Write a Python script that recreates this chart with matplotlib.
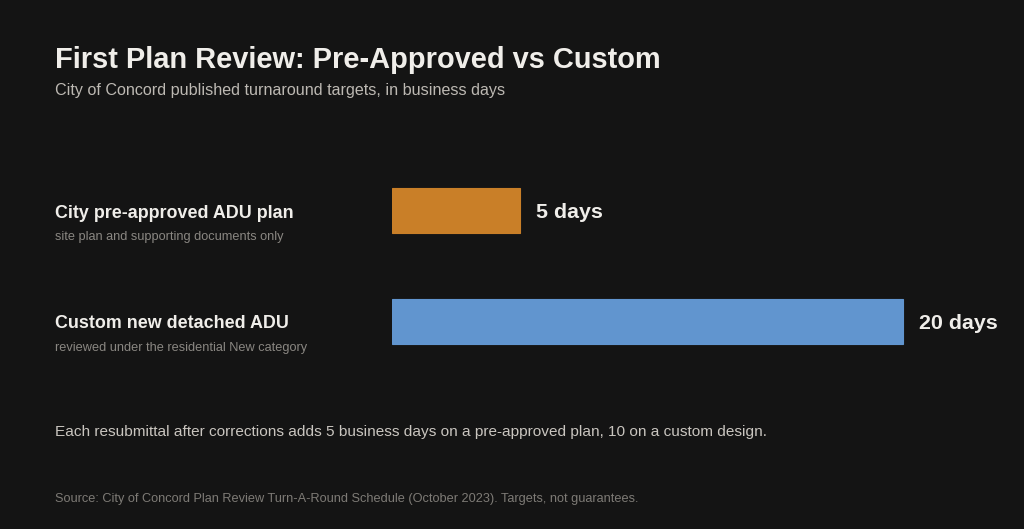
import matplotlib
matplotlib.use("Agg")
import matplotlib.pyplot as plt

categories = ["City pre-approved ADU plan", "Custom new detached ADU"]
sublabels = ["site plan and supporting documents only",
             "reviewed under the residential New category"]
days = [5, 20]
value_labels = ["5 days", "20 days"]
colors = ["#C97F28", "#6195CF"]

BG = "#141414"
FONT = ["Liberation Sans", "DejaVu Sans"]
plt.rcParams['font.family'] = FONT

W, H = 1024, 529
fig = plt.figure(figsize=(W / 100, H / 100), dpi=100, facecolor=BG)

# axes: x=0 at px 392, 25.55 px/day; rows centered at 210.5 and 321.5
left_px, right_px = 392, 392 + 24.5 * 25.55
top_px, bot_px = 155, 377
ax = fig.add_axes([left_px / W, 1 - bot_px / H, (right_px - left_px) / W, (bot_px - top_px) / H])
ax.set_facecolor(BG)
ax.set_xlim(0, 24.5)
ax.set_ylim(1.5, -0.5)
ax.axis("off")

ypos = list(range(len(categories)))
ax.barh(ypos, days, height=0.405, color=colors, edgecolor=[c for c in colors], linewidth=0.8)
for y, d, lab in zip(ypos, days, value_labels):
    ax.text(d + 0.62, y + 0.02, lab, ha="left", va="center", fontsize=15.4, fontweight="bold",
            color="#F0EEEA", clip_on=False)

def fy(py):
    return 1 - py / H

fig.text(55 / W, fy(60), "First Plan Review: Pre-Approved vs Custom", fontsize=20.85,
         fontweight="bold", color="#F0EEEA", ha="left", va="center")
fig.text(55 / W, fy(91), "City of Concord published turnaround targets, in business days",
         fontsize=11.6, color="#BDB9B3", ha="left", va="center")

label_y = [213, 324]
for cat, sub, ly in zip(categories, sublabels, label_y):
    fig.text(55 / W, fy(ly), cat, fontsize=12.85, fontweight="bold", color="#F0EEEA",
             ha="left", va="center")
    fig.text(55 / W, fy(ly + 24), sub, fontsize=9.15, color="#8A8782", ha="left", va="center")

fig.text(55 / W, fy(432), "Each resubmittal after corrections adds 5 business days on a pre-approved plan, 10 on a custom design.",
         fontsize=11.1, color="#C9C5BF", ha="left", va="center")
fig.text(55 / W, fy(499), "Source: City of Concord Plan Review Turn-A-Round Schedule (October 2023). Targets, not guarantees.",
         fontsize=9.2, color="#7E7B76", ha="left", va="center")

fig.savefig("out.png", dpi=100, facecolor=BG)
